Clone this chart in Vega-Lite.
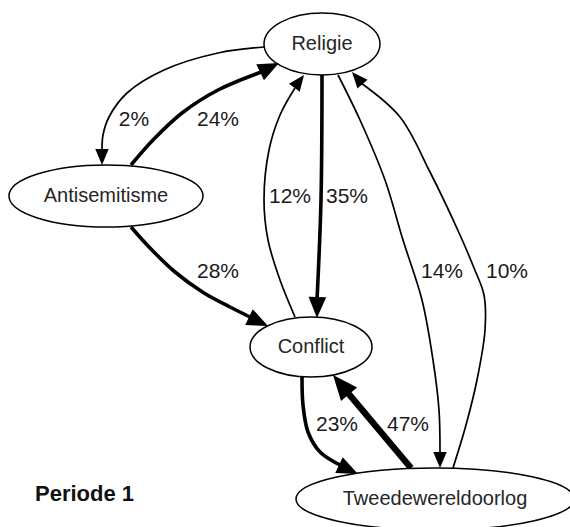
{
  "$schema": "https://vega.github.io/schema/vega-lite/v6.json",
  "width": 570,
  "height": 527,
  "autosize": {"type": "none"},
  "padding": 0,
  "background": "white",
  "config": {"view": {"stroke": null}},
  "datasets": {
    "nodes": [
      {"node": "Religie", "x": 322, "y": 44},
      {"node": "Antisemitisme", "x": 106, "y": 196},
      {"node": "Conflict", "x": 311, "y": 347},
      {"node": "Tweedewereldoorlog", "x": 435, "y": 499}
    ],
    "edgepts": [
      {"e": "E1", "pct": 2, "i": 0, "x": 264, "y": 47},
      {"e": "E1", "pct": 2, "i": 1, "x": 218, "y": 53},
      {"e": "E1", "pct": 2, "i": 2, "x": 164, "y": 70},
      {"e": "E1", "pct": 2, "i": 3, "x": 127, "y": 93},
      {"e": "E1", "pct": 2, "i": 4, "x": 109, "y": 117},
      {"e": "E1", "pct": 2, "i": 5, "x": 103, "y": 135},
      {"e": "E1", "pct": 2, "i": 6, "x": 102, "y": 151},
      {"e": "E2", "pct": 24, "i": 0, "x": 131, "y": 165},
      {"e": "E2", "pct": 24, "i": 1, "x": 153, "y": 140},
      {"e": "E2", "pct": 24, "i": 2, "x": 182, "y": 113},
      {"e": "E2", "pct": 24, "i": 3, "x": 218, "y": 90},
      {"e": "E2", "pct": 24, "i": 4, "x": 264, "y": 71},
      {"e": "E3", "pct": 35, "i": 0, "x": 322, "y": 75},
      {"e": "E3", "pct": 35, "i": 1, "x": 321, "y": 200},
      {"e": "E3", "pct": 35, "i": 2, "x": 317, "y": 300},
      {"e": "E4", "pct": 12, "i": 0, "x": 295, "y": 317},
      {"e": "E4", "pct": 12, "i": 1, "x": 280, "y": 280},
      {"e": "E4", "pct": 12, "i": 2, "x": 268, "y": 240},
      {"e": "E4", "pct": 12, "i": 3, "x": 264, "y": 200},
      {"e": "E4", "pct": 12, "i": 4, "x": 269, "y": 150},
      {"e": "E4", "pct": 12, "i": 5, "x": 280, "y": 115},
      {"e": "E4", "pct": 12, "i": 6, "x": 295, "y": 88},
      {"e": "E5", "pct": 14, "i": 0, "x": 338, "y": 75},
      {"e": "E5", "pct": 14, "i": 1, "x": 360, "y": 120},
      {"e": "E5", "pct": 14, "i": 2, "x": 385, "y": 180},
      {"e": "E5", "pct": 14, "i": 3, "x": 403, "y": 240},
      {"e": "E5", "pct": 14, "i": 4, "x": 422, "y": 300},
      {"e": "E5", "pct": 14, "i": 5, "x": 433, "y": 360},
      {"e": "E5", "pct": 14, "i": 6, "x": 439, "y": 410},
      {"e": "E5", "pct": 14, "i": 7, "x": 440, "y": 454},
      {"e": "E6", "pct": 10, "i": 0, "x": 453, "y": 468},
      {"e": "E6", "pct": 10, "i": 1, "x": 466, "y": 425},
      {"e": "E6", "pct": 10, "i": 2, "x": 477, "y": 380},
      {"e": "E6", "pct": 10, "i": 3, "x": 485, "y": 330},
      {"e": "E6", "pct": 10, "i": 4, "x": 484, "y": 295},
      {"e": "E6", "pct": 10, "i": 5, "x": 474, "y": 268},
      {"e": "E6", "pct": 10, "i": 6, "x": 460, "y": 235},
      {"e": "E6", "pct": 10, "i": 7, "x": 430, "y": 172},
      {"e": "E6", "pct": 10, "i": 8, "x": 400, "y": 117},
      {"e": "E6", "pct": 10, "i": 9, "x": 361, "y": 83},
      {"e": "E7", "pct": 28, "i": 0, "x": 131, "y": 227},
      {"e": "E7", "pct": 28, "i": 1, "x": 150, "y": 248},
      {"e": "E7", "pct": 28, "i": 2, "x": 175, "y": 272},
      {"e": "E7", "pct": 28, "i": 3, "x": 204, "y": 293},
      {"e": "E7", "pct": 28, "i": 4, "x": 230, "y": 307},
      {"e": "E7", "pct": 28, "i": 5, "x": 252, "y": 318},
      {"e": "E8", "pct": 23, "i": 0, "x": 302, "y": 377},
      {"e": "E8", "pct": 23, "i": 1, "x": 303, "y": 405},
      {"e": "E8", "pct": 23, "i": 2, "x": 308, "y": 432},
      {"e": "E8", "pct": 23, "i": 3, "x": 320, "y": 452},
      {"e": "E8", "pct": 23, "i": 4, "x": 342, "y": 466},
      {"e": "E9", "pct": 47, "i": 0, "x": 411, "y": 468},
      {"e": "E9", "pct": 47, "i": 1, "x": 348, "y": 393}
    ],
    "arrows": [
      {"e": "E1", "pct": 2, "x": 102, "y": 165, "angle": 180},
      {"e": "E2", "pct": 24, "x": 279, "y": 63, "angle": 64},
      {"e": "E3", "pct": 35, "x": 317, "y": 318, "angle": 181},
      {"e": "E4", "pct": 12, "x": 304, "y": 75, "angle": 37},
      {"e": "E5", "pct": 14, "x": 440, "y": 468, "angle": 180},
      {"e": "E6", "pct": 10, "x": 352, "y": 72, "angle": -41},
      {"e": "E7", "pct": 28, "x": 268, "y": 326, "angle": 115},
      {"e": "E8", "pct": 23, "x": 358, "y": 474, "angle": 115},
      {"e": "E9", "pct": 47, "x": 333, "y": 375, "angle": -40}
    ],
    "labels": [
      {"label": "2%", "x": 134, "y": 120},
      {"label": "24%", "x": 218, "y": 120},
      {"label": "12%", "x": 290, "y": 197},
      {"label": "35%", "x": 347, "y": 197},
      {"label": "28%", "x": 218, "y": 272},
      {"label": "14%", "x": 442, "y": 272},
      {"label": "10%", "x": 507, "y": 272},
      {"label": "23%", "x": 337, "y": 425},
      {"label": "47%", "x": 408, "y": 425}
    ],
    "caption": [
      {"label": "Periode 1", "x": 35, "y": 494}
    ]
  },
  "layer": [
    {
      "data": {"name": "edgepts"},
      "mark": {"type": "line", "interpolate": "catmull-rom", "color": "black", "strokeCap": "butt"},
      "encoding": {
        "x": {"field": "x", "type": "quantitative", "scale": {"domain": [0, 570], "nice": false, "zero": false}, "axis": null},
        "y": {"field": "y", "type": "quantitative", "scale": {"domain": [0, 527], "nice": false, "zero": false, "reverse": true}, "axis": null},
        "detail": {"field": "e", "type": "nominal"},
        "order": {"field": "i", "type": "quantitative"},
        "strokeWidth": {"field": "pct", "type": "quantitative", "scale": {"type": "threshold", "domain": [20, 40], "range": [1.7, 3.6, 6.5]}, "legend": null}
      }
    },
    {
      "data": {"name": "nodes"},
      "mark": {"type": "point", "filled": false, "fill": "white", "fillOpacity": 1, "stroke": "black", "strokeWidth": 1.5, "opacity": 1, "size": 40000},
      "encoding": {
        "x": {"field": "x", "type": "quantitative"},
        "y": {"field": "y", "type": "quantitative"},
        "shape": {
          "field": "node", "type": "nominal", "legend": null,
          "scale": {
            "domain": ["Religie", "Antisemitisme", "Conflict", "Tweedewereldoorlog"],
            "range": [
              "M-0.58,0C-0.58,-0.1712,-0.3203,-0.31,0,-0.31C0.3203,-0.31,0.58,-0.1712,0.58,0C0.58,0.1712,0.3203,0.31,0,0.31C-0.3203,0.31,-0.58,0.1712,-0.58,0Z",
              "M-0.97,0C-0.97,-0.1712,-0.5357,-0.31,0,-0.31C0.5357,-0.31,0.97,-0.1712,0.97,0C0.97,0.1712,0.5357,0.31,0,0.31C-0.5357,0.31,-0.97,0.1712,-0.97,0Z",
              "M-0.61,0C-0.61,-0.1657,-0.3369,-0.3,0,-0.3C0.3369,-0.3,0.61,-0.1657,0.61,0C0.61,0.1657,0.3369,0.3,0,0.3C-0.3369,0.3,-0.61,0.1657,-0.61,0Z",
              "M-1.39,0C-1.39,-0.1712,-0.7677,-0.31,0,-0.31C0.7677,-0.31,1.39,-0.1712,1.39,0C1.39,0.1712,0.7677,0.31,0,0.31C-0.7677,0.31,-1.39,0.1712,-1.39,0Z"
            ]
          }
        }
      }
    },
    {
      "data": {"name": "arrows"},
      "mark": {"type": "point", "filled": true, "color": "black", "opacity": 1, "shape": "M0,0L-0.42,1L0.42,1Z"},
      "encoding": {
        "x": {"field": "x", "type": "quantitative"},
        "y": {"field": "y", "type": "quantitative"},
        "angle": {"field": "angle", "type": "quantitative", "scale": {"domain": [0, 360], "range": [0, 360]}},
        "size": {"field": "pct", "type": "quantitative", "scale": {"type": "threshold", "domain": [20, 40], "range": [1024, 1764, 2500]}, "legend": null}
      }
    },
    {
      "data": {"name": "labels"},
      "mark": {"type": "text", "font": "Liberation Sans", "fontSize": 21, "color": "#1a1a1a", "align": "center", "baseline": "middle"},
      "encoding": {
        "x": {"field": "x", "type": "quantitative"},
        "y": {"field": "y", "type": "quantitative"},
        "text": {"field": "label"}
      }
    },
    {
      "data": {"name": "nodes"},
      "mark": {"type": "text", "font": "Liberation Sans", "fontSize": 20, "color": "#262626", "align": "center", "baseline": "middle"},
      "encoding": {
        "x": {"field": "x", "type": "quantitative"},
        "y": {"field": "y", "type": "quantitative"},
        "text": {"field": "node"}
      }
    },
    {
      "data": {"name": "caption"},
      "mark": {"type": "text", "font": "Liberation Sans", "fontSize": 22, "fontWeight": "bold", "color": "#111", "align": "left", "baseline": "middle"},
      "encoding": {
        "x": {"field": "x", "type": "quantitative"},
        "y": {"field": "y", "type": "quantitative"},
        "text": {"field": "label"}
      }
    }
  ]
}
